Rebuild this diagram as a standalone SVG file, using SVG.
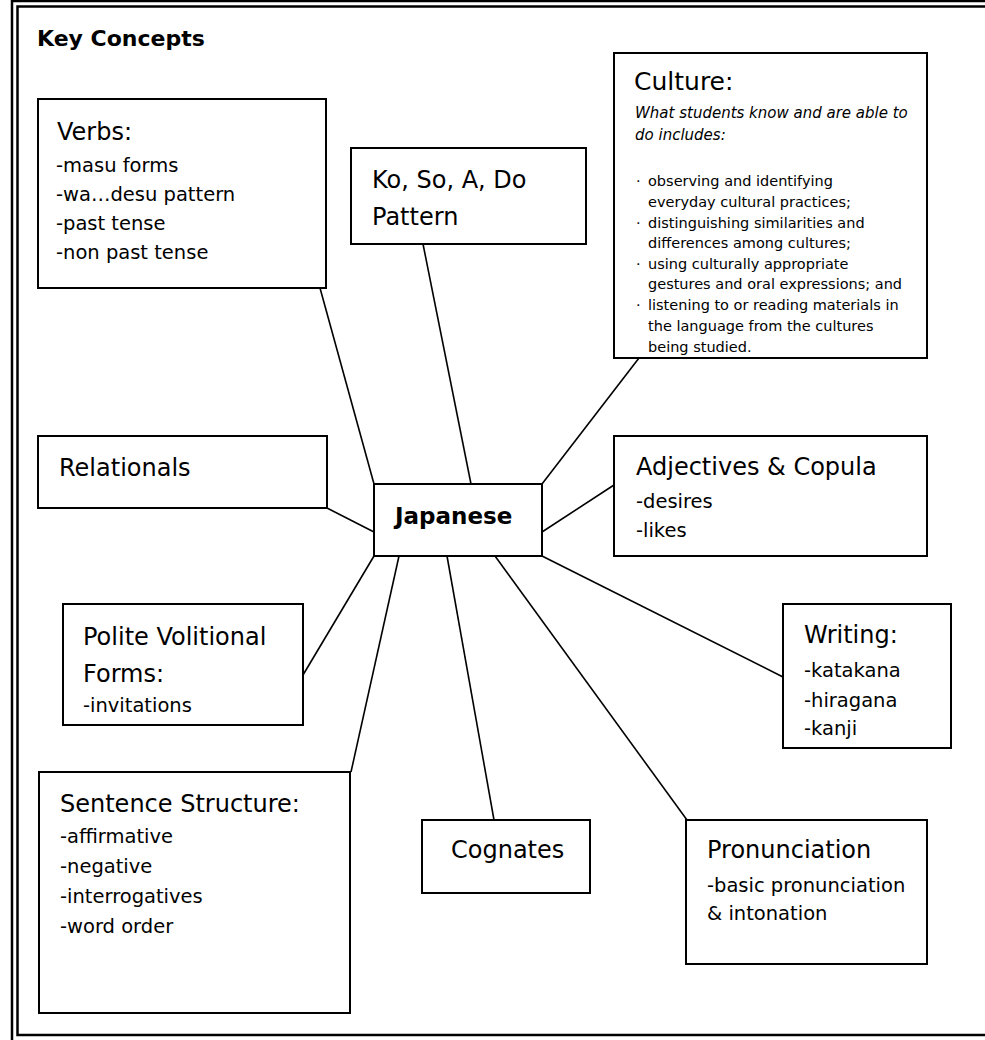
<svg xmlns="http://www.w3.org/2000/svg" width="985" height="1040" viewBox="0 0 985 1040">
<style>
text{font-family:"Comic Sans MS","DejaVu Sans",sans-serif;fill:#000}
.box{fill:#fff;stroke:#000;stroke-width:2}
.h{font-size:24px}
.s{font-size:19.5px}
.c{font-size:14.5px}
.b{font-weight:bold;font-size:22px}
.i{font-style:italic;font-size:15px}
#connectors line{stroke:#000;stroke-width:1.6}
</style>
<rect x="0" y="0" width="985" height="1040" fill="#fff"/>
<g id="frame" fill="none" stroke="#000">
<rect x="12" y="1" width="990" height="1050" stroke-width="2.5"/>
<rect x="17.5" y="6.5" width="980" height="1028.5" stroke-width="2.5"/>
</g>
<text x="37" y="46" class="b">Key Concepts</text>
<g id="connectors">
<line x1="320" y1="288" x2="374" y2="484"/>
<line x1="423" y1="244" x2="471" y2="484"/>
<line x1="542" y1="484" x2="639" y2="358"/>
<line x1="327" y1="508" x2="374" y2="532"/>
<line x1="542" y1="532" x2="614" y2="485"/>
<line x1="374" y1="556" x2="303" y2="675"/>
<line x1="399" y1="556" x2="351" y2="772"/>
<line x1="447" y1="556" x2="494" y2="820"/>
<line x1="495" y1="556" x2="687" y2="820"/>
<line x1="542" y1="556" x2="783" y2="677"/>
</g>
<g id="verbs">
<rect class="box" x="38" y="99" width="288" height="189"/>
<text x="57" y="140" class="h">Verbs:</text>
<text x="56" y="172" class="s">-masu forms</text>
<text x="56" y="201" class="s">-wa…desu pattern</text>
<text x="56" y="230" class="s">-past tense</text>
<text x="56" y="259" class="s">-non past tense</text>
</g>
<g id="kosoado">
<rect class="box" x="351" y="148" width="235" height="96"/>
<text x="372" y="188" class="h">Ko, So, A, Do</text>
<text x="372" y="225" class="h">Pattern</text>
</g>
<g id="culture">
<rect class="box" x="614" y="53" width="313" height="305"/>
<text x="634" y="90" style="font-size:25px">Culture:</text>
<text x="635" y="118" class="i">What students know and are able to</text>
<text x="635" y="140" class="i">do includes:</text>
<text class="c">
<tspan x="636" y="186">·</tspan><tspan x="648" y="186">observing and identifying</tspan>
<tspan x="648" y="207">everyday cultural practices;</tspan>
<tspan x="636" y="228">·</tspan><tspan x="648" y="228">distinguishing similarities and</tspan>
<tspan x="648" y="248">differences among cultures;</tspan>
<tspan x="636" y="269">·</tspan><tspan x="648" y="269">using culturally appropriate</tspan>
<tspan x="648" y="289">gestures and oral expressions; and</tspan>
<tspan x="636" y="310">·</tspan><tspan x="648" y="310">listening to or reading materials in</tspan>
<tspan x="648" y="331">the language from the cultures</tspan>
<tspan x="648" y="352">being studied.</tspan>
</text>
</g>
<g id="japanese">
<rect class="box" x="374" y="484" width="168" height="72"/>
<text x="395" y="524" class="b" style="font-size:23px">Japanese</text>
</g>
<g id="relationals">
<rect class="box" x="38" y="436" width="289" height="72"/>
<text x="59" y="476" class="h">Relationals</text>
</g>
<g id="adjectives">
<rect class="box" x="614" y="436" width="313" height="120"/>
<text x="636" y="475" class="h">Adjectives &amp; Copula</text>
<text x="636" y="508" class="s">-desires</text>
<text x="636" y="537" class="s">-likes</text>
</g>
<g id="polite">
<rect class="box" x="63" y="604" width="240" height="121"/>
<text x="83" y="645" class="h">Polite Volitional</text>
<text x="83" y="682" class="h">Forms:</text>
<text x="83" y="712" class="s">-invitations</text>
</g>
<g id="writing">
<rect class="box" x="783" y="604" width="168" height="144"/>
<text x="804" y="643" class="h">Writing:</text>
<text x="804" y="677" class="s">-katakana</text>
<text x="804" y="707" class="s">-hiragana</text>
<text x="804" y="735" class="s">-kanji</text>
</g>
<g id="sentence">
<rect class="box" x="39" y="772" width="311" height="241"/>
<text x="60" y="812" class="h">Sentence Structure:</text>
<text x="60" y="843" class="s">-affirmative</text>
<text x="60" y="873" class="s">-negative</text>
<text x="60" y="903" class="s">-interrogatives</text>
<text x="60" y="933" class="s">-word order</text>
</g>
<g id="cognates">
<rect class="box" x="422" y="820" width="168" height="73"/>
<text x="451" y="858" class="h">Cognates</text>
</g>
<g id="pronunciation">
<rect class="box" x="686" y="820" width="241" height="144"/>
<text x="707" y="858" class="h">Pronunciation</text>
<text x="707" y="892" class="s">-basic pronunciation</text>
<text x="707" y="920" class="s">&amp; intonation</text>
</g>
</svg>
